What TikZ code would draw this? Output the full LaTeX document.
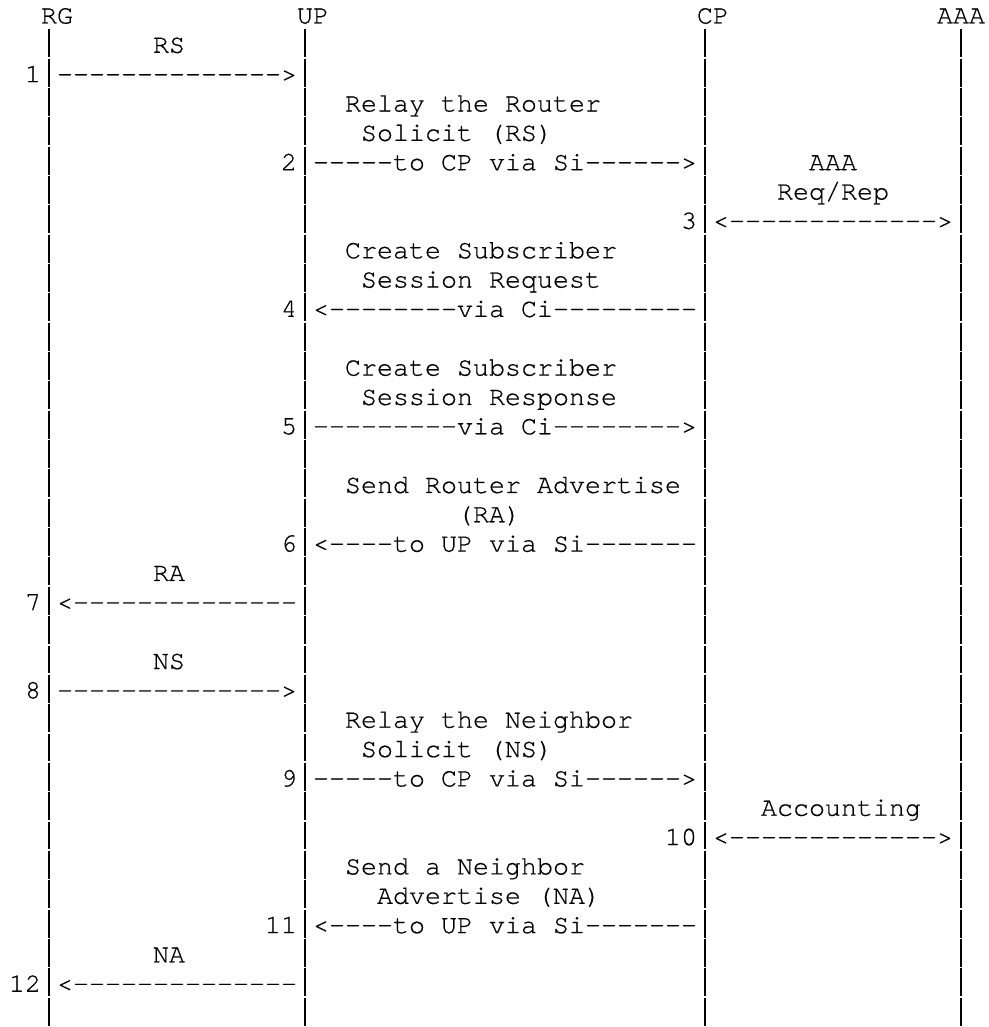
\documentclass[tikz,border=0pt]{standalone}
\usepackage{fontspec}
\setmonofont{texgyrecursor}[Extension=.otf,UprightFont=*-regular,FakeBold=0.5]
\usepackage{tikz}
\usetikzlibrary{positioning}
\newcommand{\asciifont}{\ttfamily\fontsize{13.333pt}{14pt}\selectfont\spaceskip=8pt\relax}

\begin{document}
\begin{tikzpicture}[x=8pt,y=-14.671pt,
    txt/.style={anchor=base west,inner sep=0pt,outer sep=0pt,font=\asciifont},
    life line/.style={-,line width=0.8pt,dash pattern=on 13.97pt off 0.7pt}]
   \useasboundingbox[fill=white] (-0.5625,0) rectangle (61.1875,35);
   % the four columns
   \node[txt] (rg)  at (2,0.8)  {RG};
   \node[txt] (up)  at (18,0.8) {UP};
   \node[txt] (cp)  at (43,0.8) {CP};
   \node[txt] (aaa) at (58,0.8) {AAA};
   \coordinate (rgt) at (2.5,1);  \coordinate (rgb) at (2.5,35);
   \coordinate (upt) at (18.5,1); \coordinate (upb) at (18.5,35);
   \coordinate (cpt) at (43.5,1); \coordinate (cpb) at (43.5,35);
   \coordinate (aat) at (59.5,1); \coordinate (aab) at (59.5,35);
   \path[life line] (rgt) edge (rgb);
   \path[life line] (upt) edge (upb);
   \path[life line] (cpt) edge (cpb);
   \path[life line] (aat) edge (aab);
   % RS
   \node[txt] (rs) at (9,1.8) {RS};
   \node[txt] (n1) at (1,2.8) {1};
   \node[txt] (m1) at (3,2.8) {-------------->};
   % relay RS
   \node[txt] (t2a) at (21,3.8) {Relay the Router};
   \node[txt] (t2b) at (22,4.8) {Solicit (RS)};
   \node[txt] (n2) at (17,5.8) {2};
   \node[txt] (m2) at (19,5.8) {-----to CP via Si------>};
   % AAA
   \node[txt] (t3a) at (50,5.8) {AAA};
   \node[txt] (t3b) at (48,6.8) {Req/Rep};
   \node[txt] (n3) at (42,7.8) {3};
   \node[txt] (m3) at (44,7.8) {<------------->};
   % session request
   \node[txt] (t4a) at (21,8.8) {Create Subscriber};
   \node[txt] (t4b) at (22,9.8) {Session Request};
   \node[txt] (n4) at (17,10.8) {4};
   \node[txt] (m4) at (19,10.8) {<--------via Ci---------};
   % session response
   \node[txt] (t5a) at (21,12.8) {Create Subscriber};
   \node[txt] (t5b) at (22,13.8) {Session Response};
   \node[txt] (n5) at (17,14.8) {5};
   \node[txt] (m5) at (19,14.8) {---------via Ci-------->};
   % RA
   \node[txt] (t6a) at (21,16.8) {Send Router Advertise};
   \node[txt] (t6b) at (28,17.8) {(RA)};
   \node[txt] (n6) at (17,18.8) {6};
   \node[txt] (m6) at (19,18.8) {<----to UP via Si-------};
   \node[txt] (ra) at (9,19.8) {RA};
   \node[txt] (n7) at (1,20.8) {7};
   \node[txt] (m7) at (3,20.8) {<--------------};
   % NS
   \node[txt] (ns) at (9,22.8) {NS};
   \node[txt] (n8) at (1,23.8) {8};
   \node[txt] (m8) at (3,23.8) {-------------->};
   \node[txt] (t9a) at (21,24.8) {Relay the Neighbor};
   \node[txt] (t9b) at (22,25.8) {Solicit (NS)};
   \node[txt] (n9) at (17,26.8) {9};
   \node[txt] (m9) at (19,26.8) {-----to CP via Si------>};
   % accounting
   \node[txt] (acc) at (47,27.8) {Accounting};
   \node[txt] (n10) at (41,28.8) {10};
   \node[txt] (m10) at (44,28.8) {<------------->};
   % NA
   \node[txt] (t11a) at (21,29.8) {Send a Neighbor};
   \node[txt] (t11b) at (23,30.8) {Advertise (NA)};
   \node[txt] (n11) at (16,31.8) {11};
   \node[txt] (m11) at (19,31.8) {<----to UP via Si-------};
   \node[txt] (na) at (9,32.8) {NA};
   \node[txt] (n12) at (0,33.8) {12};
   \node[txt] (m12) at (3,33.8) {<--------------};
\end{tikzpicture}
\end{document}
